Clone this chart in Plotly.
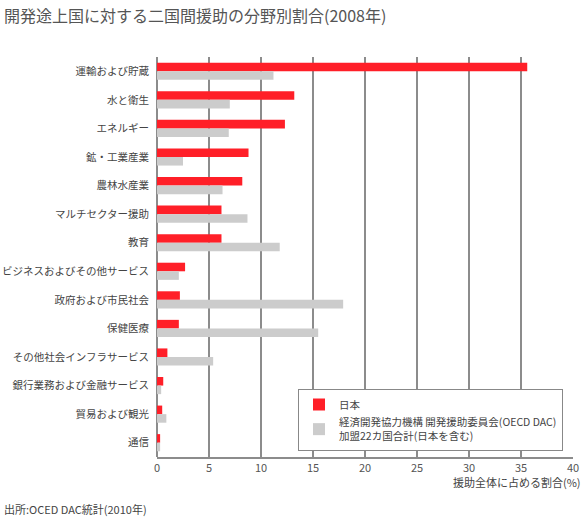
import plotly.graph_objects as go

categories = ["運輸および貯蔵", "水と衛生", "エネルギー", "鉱・工業産業", "農林水産業",
              "マルチセクター援助", "教育", "ビジネスおよびその他サービス", "政府および市民社会",
              "保健医療", "その他社会インフラサービス", "銀行業務および金融サービス",
              "貿易および観光", "通信"]
japan = [35.6, 13.2, 12.3, 8.8, 8.2, 6.2, 6.2, 2.7, 2.2, 2.1, 1.0, 0.6, 0.5, 0.3]
dac = [11.2, 7.0, 6.9, 2.5, 6.3, 8.7, 11.8, 2.1, 17.9, 15.5, 5.4, 0.4, 0.9, 0.3]
x_ticks = [0, 5, 10, 15, 20, 25, 30, 35, 40]

FONT = "Noto Sans CJK JP"

fig = go.Figure()
fig.add_trace(go.Bar(y=categories, x=japan, orientation="h", name="日本",
                     marker=dict(color="#ff1f28", line=dict(width=0))))
fig.add_trace(go.Bar(y=categories, x=dac, orientation="h",
                     name="経済開発協力機構 開発援助委員会(OECD DAC)<br>加盟22カ国合計(日本を含む)",
                     marker=dict(color="#cccccc", line=dict(width=0))))

fig.update_layout(
    width=584, height=520,
    margin=dict(l=157, r=11, t=57, b=63, autoexpand=False),
    paper_bgcolor="white", plot_bgcolor="white",
    barmode="group", bargap=0.4, bargroupgap=0,
    font=dict(family=FONT, size=11, color="#444"),
    showlegend=True,
    legend=dict(x=(298 - 157) / 416, xanchor="left", y=(457 - 451) / 400, yanchor="bottom",
                bgcolor="white", bordercolor="#888", borderwidth=1,
                font=dict(size=10.5, color="#444"), traceorder="normal",
                itemwidth=30, tracegroupgap=4),
    xaxis=dict(range=[0, 40], tickvals=x_ticks, showgrid=True, gridcolor="#8c8c8c",
               gridwidth=1.5, zeroline=True, zerolinecolor="#8c8c8c", zerolinewidth=1.5,
               showline=True, linecolor="#8c8c8c", linewidth=1.5, ticks="",
               tickfont=dict(size=11, color="#555"), fixedrange=True, automargin=False),
    yaxis=dict(autorange="reversed", showgrid=False, ticks="", ticklen=0,
               ticklabelstandoff=7, automargin=False,
               tickfont=dict(size=10.5, color="#444"), showline=False),
    annotations=[
        dict(text="開発途上国に対する二国間援助の分野別割合(2008年)", xref="paper", yref="paper",
             x=-155/416, y=1 + (57 - 15) / 400, xanchor="left", yanchor="middle",
             showarrow=False, font=dict(size=16, color="#555")),
        dict(text="援助全体に占める割合(%)", xref="paper", yref="paper",
             x=1 + 10/416, y=-(482 - 457) / 400, xanchor="right", yanchor="middle",
             showarrow=False, font=dict(size=11, color="#444")),
        dict(text="出所:OCED DAC統計(2010年)", xref="paper", yref="paper",
             x=-155/416, y=-(509 - 457) / 400, xanchor="left", yanchor="middle",
             showarrow=False, font=dict(size=11, color="#444")),
    ],
)

fig.write_html("out.html", config={"displayModeBar": False},
               post_script="document.body.style.margin='0';")
